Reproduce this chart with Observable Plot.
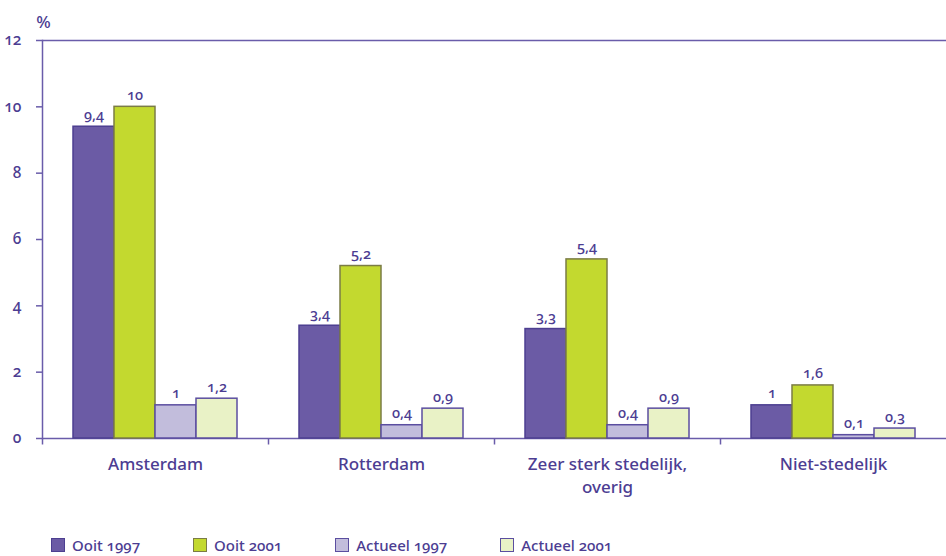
<!DOCTYPE html>
<html>
<head>
<meta charset="utf-8">
<script src="https://cdn.jsdelivr.net/npm/d3@7"></script>
<script src="https://cdn.jsdelivr.net/npm/@observablehq/plot@0.6"></script>
<style>
  html, body { margin: 0; padding: 0; background: #ffffff; }
  body { position: relative; width: 946px; height: 556px; overflow: hidden; font-family: "Noto Sans", "Open Sans", sans-serif; }
  svg text { font-variant-numeric: oldstyle-nums; font-weight: 500; }
  #legend { position: absolute; left: 0; top: 535px; display: flex; align-items: center; height: 20px; padding-left: 51px; font-size: 15px; font-weight: 500; color: #4c3d92; font-variant-numeric: oldstyle-nums; }
  #legend .item { display: flex; align-items: center; margin-right: 53px; white-space: nowrap; }
  #legend .sw { width: 12px; height: 12px; border: 1.5px solid; margin-right: 7px; }
</style>
</head>
<body>
<div id="chart"></div>
<div id="legend"></div>
<script>
const groups = ["Amsterdam", "Rotterdam", "Zeer sterk stedelijk, overig", "Niet-stedelijk"];
const groupLabels = ["Amsterdam", "Rotterdam", "Zeer sterk stedelijk,\noverig", "Niet-stedelijk"];
const series = ["Ooit 1997", "Ooit 2001", "Actueel 1997", "Actueel 2001"];
const ooit1997 = [9.4, 3.4, 3.3, 1];
const ooit2001 = [10, 5.2, 5.4, 1.6];
const actueel1997 = [1, 0.4, 0.4, 0.1];
const actueel2001 = [1.2, 0.9, 0.9, 0.3];
const yTicks = [0, 2, 4, 6, 8, 10, 12];

const fills = ["#6b5ba5", "#c3d92f", "#c2bddc", "#e9f2c6"];
const strokes = ["#4d3f91", "#7b7c46", "#5b4ea0", "#5b4ea0"];
const textColor = "#4c3d92";
const axisColor = "#6a5caa";

const seriesValues = [ooit1997, ooit2001, actueel1997, actueel2001];
const data = groups.flatMap((g, i) => series.map((s, j) => ({
  group: g, series: s, value: seriesValues[j][i],
  fill: fills[j], stroke: strokes[j]
})));

const fmt = v => String(v).replace(".", ",");
const tickDown = { draw(ctx) { ctx.moveTo(0, 0); ctx.lineTo(0, 6); } };

const chart = Plot.plot({
  width: 946,
  height: 537,
  marginLeft: 42,
  marginRight: 0,
  marginTop: 40,
  marginBottom: 99,
  fx: { domain: groups, padding: 0, label: null },
  x: { domain: series, paddingInner: 0, paddingOuter: 0.75, axis: null },
  y: { domain: [0, 12], axis: null },
  color: { type: "identity" },
  style: { fontFamily: "'Noto Sans', 'Open Sans', sans-serif", color: textColor, background: "#ffffff" },
  marks: [
    Plot.ruleY([0, 12], { stroke: axisColor, strokeWidth: 1.5 }),
    Plot.frame({ anchor: "left", facetAnchor: "left", stroke: axisColor, strokeWidth: 1.5 }),
    Plot.dot([0], { frameAnchor: "bottom-left", symbol: tickDown, fill: "none", stroke: axisColor, strokeWidth: 1.5 }),
    Plot.barY(data, { fx: "group", x: "series", y: "value", fill: "fill", stroke: "stroke", strokeWidth: 1.5 }),
    Plot.text(data, { fx: "group", x: "series", y: "value", text: d => fmt(d.value), lineAnchor: "bottom", dy: -7, fontSize: 14.5, fill: textColor }),
    Plot.axisY(yTicks, { tickSize: 6, tickPadding: 15, fontSize: 15.5, stroke: axisColor, fill: textColor, strokeWidth: 1.5, label: null, tickFormat: d => String(d) }),
    Plot.text(["%"], { frameAnchor: "top-left", facetAnchor: "left", textAnchor: "middle", dx: 1, dy: -25, fontSize: 17, fill: textColor }),
    Plot.axisFx({ anchor: "bottom", tickSize: 0, tickPadding: 15, fontSize: 17, lineHeight: 1.35, label: null, fill: textColor,
      tickFormat: d => groupLabels[groups.indexOf(d)] })
  ]
});
document.getElementById("chart").appendChild(chart);

const legend = document.getElementById("legend");
series.forEach((s, j) => {
  const item = document.createElement("div");
  item.className = "item";
  const sw = document.createElement("div");
  sw.className = "sw";
  sw.style.background = fills[j];
  sw.style.borderColor = strokes[j];
  const lab = document.createElement("span");
  lab.textContent = s;
  item.appendChild(sw);
  item.appendChild(lab);
  legend.appendChild(item);
});
</script>
</body>
</html>
